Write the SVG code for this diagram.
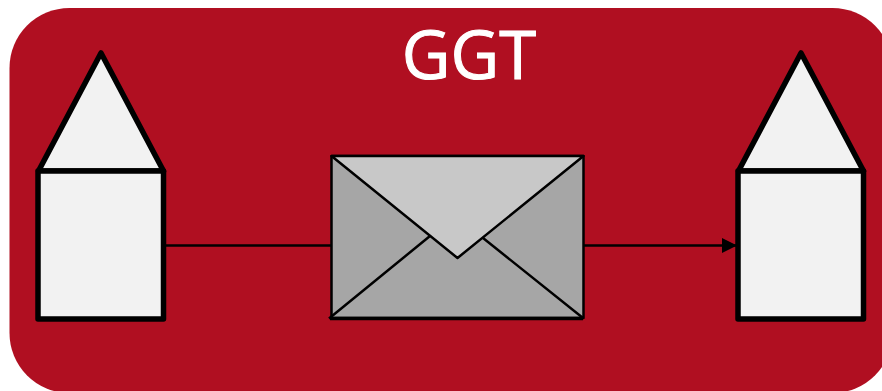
<svg xmlns="http://www.w3.org/2000/svg" width="882" height="391" viewBox="0 0 882 391">
<style>
.house{fill:#f2f2f2;stroke:#000;stroke-width:5.500;stroke-linejoin:round}
.env{stroke:#000;stroke-width:2.500;stroke-linejoin:round}
.conn{fill:none;stroke:#000;stroke-width:2.500}
.title{font-family:"Open Sans","Noto Sans",sans-serif;font-size:67px;fill:#fff;stroke:#fff;stroke-width:1;text-anchor:middle}
</style>
<defs>
<marker id="arrow" markerUnits="userSpaceOnUse" markerWidth="15" markerHeight="16" refX="15" refY="8" orient="auto"><path d="M0 0.500L15 8L0 15.500Z" fill="#000"/></marker>
</defs>
<rect width="882" height="391" fill="#fff"/>
<rect id="background" x="9.500" y="8" width="883" height="385" rx="60" ry="60" fill="#b00f21"/>
<text id="title" class="title" x="469" y="79">GGT</text>
<g id="connectors">
<path class="conn" d="M165 245.500H331"/>
<path class="conn" d="M584 245.500H737" marker-end="url(#arrow)"/>
</g>
<g id="house-left">
<polygon class="house" points="101,53 163.500,171 38.500,171"/>
<rect class="house" x="38" y="171" width="125.500" height="148"/>
</g>
<g id="envelope">
<rect class="env" x="331.500" y="156" width="252" height="162" fill="#a6a6a6"/>
<path class="env" fill="none" d="M329 318.500L430 236M483 238L583 318"/>
<polygon class="env" points="331.500,156 583.500,156 457.500,258" fill="#c8c8c8"/>
<path d="M330 318.500H583" stroke="#000" stroke-width="3.500"/>
</g>
<g id="house-right">
<polygon class="house" points="801,53 863.500,171 738.500,171"/>
<rect class="house" x="738" y="171" width="125.500" height="148"/>
</g>
</svg>
